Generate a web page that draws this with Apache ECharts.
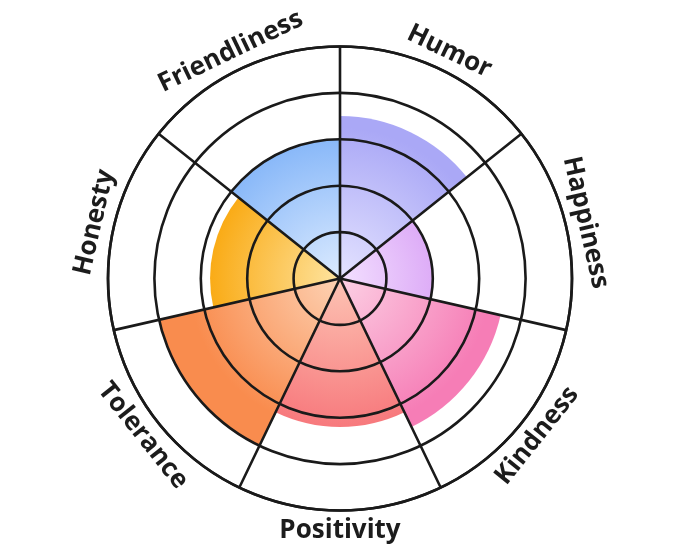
<!DOCTYPE html>
<html>
<head>
<meta charset="utf-8">
<script src="https://cdn.jsdelivr.net/npm/echarts@6/dist/echarts.min.js"></script>
<style>
  html, body { margin: 0; padding: 0; background: #fff; }
  #main { width: 680px; height: 557px; }
</style>
</head>
<body>
<div id="main"></div>
<script>
// categories go clockwise from 12 o'clock
const categories = ["Humor", "Happiness", "Kindness", "Positivity", "Tolerance", "Honesty", "Friendliness"];
const scores = [3.5, 2.0, 3.55, 3.2, 4.0, 2.8, 3.0];
const innerColors = ["#e4e3ff", "#f3e0ff", "#fcd0e4", "#fdc4b4", "#fdd2b4", "#fee4a0", "#dcebff"];
const outerColors = ["#aaa8f6", "#d08cf2", "#f67db6", "#f7787c", "#f98c4e", "#f9a200", "#82b4f8"];

let el = document.getElementById("main");
let chart = echarts.init(el);

const R = 232;
const lineColor = "#1a1a1a";
const lineW = 2.6;
let cx = el.clientWidth / 2;
let cy = el.clientHeight / 2;

let barData = scores.map((v, i) => ({
  value: v,
  itemStyle: {
    color: {
      type: "radial",
      x: cx,
      y: cy,
      r: R,
      global: true,
      colorStops: [
        { offset: 0, color: innerColors[i] },
        { offset: 0.65, color: outerColors[i] }
      ]
    }
  }
}));

chart.setOption({
  animation: false,
  polar: { center: ["50%", "50%"], radius: R },
  angleAxis: {
    type: "category",
    data: categories,
    startAngle: 90,
    z: 10,
    axisLine: { show: true, lineStyle: { color: lineColor, width: lineW } },
    axisTick: { show: false },
    axisLabel: { show: false },
    splitLine: { show: true, lineStyle: { color: lineColor, width: lineW } }
  },
  radiusAxis: {
    type: "value",
    min: 0,
    max: 5,
    interval: 1,
    z: 10,
    axisLine: { show: false },
    axisTick: { show: false },
    axisLabel: { show: false },
    splitLine: { show: true, lineStyle: { color: lineColor, width: lineW } }
  },
  series: [
    {
      type: "bar",
      coordinateSystem: "polar",
      barCategoryGap: "0%",
      silent: true,
      data: barData
    },
    {
      // invisible ring, only used to place the curved-looking labels
      type: "pie",
      center: ["50%", "50%"],
      radius: [238, 260],
      startAngle: 90,
      silent: true,
      itemStyle: { color: "transparent" },
      label: {
        show: true,
        position: "inside",
        rotate: "tangential",
        color: "#1c1c1c",
        fontFamily: "Open Sans",
        fontWeight: "bold",
        fontSize: 26
      },
      labelLine: { show: false },
      emphasis: { disabled: true },
      data: categories.map((c) => ({ name: c, value: 1 }))
    }
  ]
});
</script>
</body>
</html>
